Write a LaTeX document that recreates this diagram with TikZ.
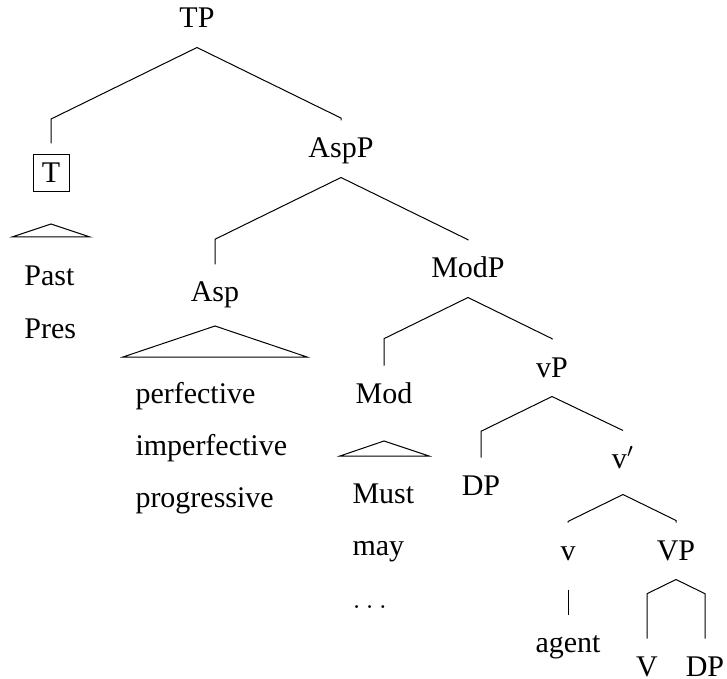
\documentclass[tikz,border=0pt]{standalone}
\usepackage{fontspec}
\setmainfont{Liberation Serif}
\usetikzlibrary{calc}
\tikzset{
  lbl/.style={inner sep=0pt, outer ysep=7.8pt, text height=7.2pt, text depth=0pt, anchor=base},
  headbox/.style={draw, inner sep=0pt, minimum width=14.4pt, minimum height=14.8pt, outer ysep=4.4pt},
  leaf/.style={inner sep=0pt, anchor=base west},
}
\newcommand\branch[2]{\draw let \p1=(#1.south), \p2=(#2.north) in (\p1) -- (\x2,{max(\y2,\y1-0.49*abs(\x2-\x1))}) -- (\p2);}
\begin{document}
\begin{tikzpicture}[x=0.4pt,y=-0.4pt,font=\fontsize{12}{14}\selectfont]
\useasboundingbox (0,0) rectangle (727,679);
\node [lbl] (TP) at (197,28) {TP};
\node [headbox] (T) at (51,173) {T};
\node [lbl] (AspP) at (341,158) {AspP};
\node [lbl] (Asp) at (215,302) {Asp};
\node [lbl] (ModP) at (468,278) {ModP};
\node [lbl] (Mod) at (384,403) {Mod};
\node [lbl] (vP) at (552,377) {vP};
\node [lbl] (spec) at (481,495) {DP};
\node [lbl, text depth=2.8pt] (vbar) at (623,468) {v$'$};
\node [lbl] (v) at (568,560) {v};
\node [lbl] (VP) at (676,560) {VP};
\node [lbl] (agent) at (568,652) {agent};
\node [lbl] (V) at (647,676) {V};
\node [lbl] (obj) at (705,676) {DP};
\node [leaf] (past) at (24,285) {Past};
\node [leaf] (pres) at (24,338) {Pres};
\node [leaf] (perf) at (135,403) {perfective};
\node [leaf] (imperf) at (135,455) {imperfective};
\node [leaf] (prog) at (135,507) {progressive};
\node [leaf] (must) at (352,503) {Must};
\node [leaf] (may) at (352,555) {may};
\node [leaf] (etc) at (352,608) {$\dots$};
\branch{TP}{T}
\branch{TP}{AspP}
\branch{AspP}{Asp}
\branch{AspP}{ModP}
\branch{ModP}{Mod}
\branch{ModP}{vP}
\branch{vP}{spec}
\branch{vP}{vbar}
\branch{vbar}{v}
\branch{vbar}{VP}
\branch{VP}{V}
\branch{VP}{obj}
\draw ([yshift=-4pt]v.south) -- (agent.north);
\coordinate (Troof) at (51,224);
\coordinate (Asproof) at (215,326);
\coordinate (Modroof) at (384,441);
\draw (Troof) -- ++(-39,13) -- ++(78,0) -- cycle;
\draw (Asproof) -- ++(-92,31) -- ++(184,0) -- cycle;
\draw (Modroof) -- ++(-44,15) -- ++(89,0) -- cycle;
\end{tikzpicture}
\end{document}
